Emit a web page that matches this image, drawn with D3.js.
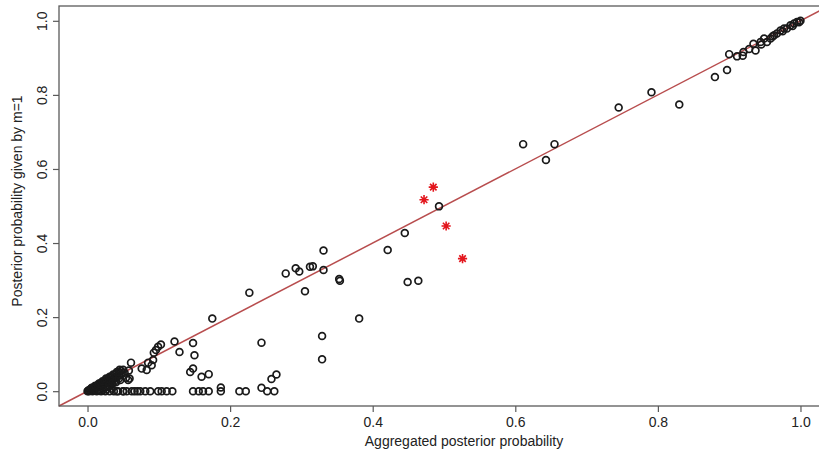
<!DOCTYPE html>
<html>
<head>
<meta charset="utf-8">
<script src="https://cdn.jsdelivr.net/npm/d3@7"></script>
<style>
    body { margin: 0; background: #fff; }
    svg text { font-family: "Liberation Sans", Arial, sans-serif; fill: #222; }
</style>
</head>
<body>
<div id="chart"></div>
<script>
/**
 * Data.
 */
var aggX = [
    1.000, 0.995, 0.991, 0.986, 0.981, 0.977, 0.972, 0.967, 0.963, 0.958,
    0.953, 0.949, 0.944, 0.937, 0.934, 0.920, 0.919, 0.911, 0.900, 0.897,
    0.880, 0.830, 0.791, 0.745, 0.655, 0.643, 0.611, 0.493, 0.464, 0.449,
    0.445, 0.421, 0.381, 0.354, 0.353, 0.331, 0.331, 0.329, 0.329, 0.316,
    0.312, 0.305, 0.297, 0.292, 0.278, 0.265, 0.258, 0.244, 0.244, 0.227,
    0.175, 0.975, 0.989, 0.998, 0.961, 0.945, 0.928,
    0.122, 0.148, 0.103, 0.099, 0.096, 0.093, 0.129, 0.150, 0.092, 0.085,
    0.076, 0.061, 0.090, 0.083, 0.057, 0.059, 0.148, 0.144, 0.160, 0.170,
    0.262, 0.252, 0.222, 0.213, 0.187, 0.187, 0.170, 0.162, 0.156, 0.148,
    0.119, 0.111, 0.104, 0.099, 0.088, 0.081, 0.074, 0.070, 0.062, 0.050, 0.041,
    0.000, 0.001, 0.002, 0.003, 0.004, 0.005, 0.006, 0.007, 0.008, 0.009,
    0.010, 0.011, 0.012, 0.013, 0.014, 0.015, 0.016, 0.017, 0.018, 0.019,
    0.020, 0.021, 0.022, 0.023, 0.024, 0.025, 0.026, 0.027, 0.028, 0.029,
    0.030, 0.031, 0.032, 0.033, 0.034, 0.035, 0.036, 0.037, 0.038, 0.039,
    0.040, 0.041, 0.042, 0.043, 0.044, 0.045, 0.046, 0.047, 0.048, 0.050,
    0.050, 0.052, 0.054, 0.055, 0.058, 0.066,
    0.006, 0.011, 0.016, 0.021, 0.026, 0.031, 0.036, 0.041, 0.045, 0.030,
    0.035, 0.040, 0.044, 0.034, 0.027, 0.022, 0.017
];
var aggY = [
    1.000, 0.997, 0.993, 0.988, 0.979, 0.979, 0.974, 0.966, 0.961, 0.952,
    0.943, 0.952, 0.943, 0.920, 0.938, 0.916, 0.906, 0.904, 0.910, 0.867,
    0.848, 0.774, 0.807, 0.766, 0.667, 0.624, 0.667, 0.499, 0.298, 0.295,
    0.427, 0.381, 0.196, 0.298, 0.303, 0.327, 0.380, 0.149, 0.086, 0.337,
    0.336, 0.270, 0.323, 0.332, 0.318, 0.045, 0.033, 0.131, 0.009, 0.266,
    0.196, 0.972, 0.986, 0.996, 0.958, 0.936, 0.924,
    0.134, 0.130, 0.126, 0.120, 0.111, 0.104, 0.106, 0.097, 0.084, 0.077,
    0.061, 0.077, 0.070, 0.057, 0.030, 0.034, 0.061, 0.052, 0.039, 0.046,
    0.000, 0.000, 0.000, 0.000, 0.000, 0.010, 0.000, 0.000, 0.000, 0.000,
    0.000, 0.000, 0.000, 0.000, 0.000, 0.000, 0.000, 0.000, 0.000, 0.000, 0.000,
    0.000, 0.002, 0.000, 0.004, 0.001, 0.007, 0.003, 0.000, 0.010, 0.005,
    0.002, 0.013, 0.008, 0.000, 0.016, 0.011, 0.004, 0.020, 0.014, 0.000,
    0.023, 0.017, 0.008, 0.026, 0.020, 0.000, 0.030, 0.022, 0.012, 0.033,
    0.026, 0.000, 0.037, 0.029, 0.018, 0.040, 0.032, 0.000, 0.044, 0.036,
    0.024, 0.048, 0.039, 0.000, 0.052, 0.043, 0.030, 0.055, 0.046, 0.000,
    0.058, 0.050, 0.036, 0.000, 0.056, 0.000,
    0.009, 0.015, 0.021, 0.027, 0.034, 0.039, 0.045, 0.052, 0.058, 0.016,
    0.022, 0.028, 0.034, 0.007, 0.005, 0.003, 0.001
];

// highlighted models (red stars)
var starX = [0.485, 0.472, 0.503, 0.526];
var starY = [0.551, 0.517, 0.446, 0.358];

var tickValues = [0, 0.2, 0.4, 0.6, 0.8, 1.0];

var width = 819;
var height = 459;

margin = {
    top: 6,
    right: -10,
    bottom: 53,
    left: 59
};

var x = d3.scaleLinear()
    .domain([-0.04, 1.04])
    .range([margin.left, width - margin.right]);

var y = d3.scaleLinear()
    .domain([-0.04, 1.04])
    .range([height - margin.bottom, margin.top]);

var svg = d3.select("#chart").append("svg")
    .attr("width", width)
    .attr("height", height);

// reference line y = x
svg.append("line")
    .attr("x1", x(-0.04))
    .attr("y1", y(-0.04))
    .attr("x2", x(1.04))
    .attr("y2", y(1.04))
    .attr("stroke", "#b84d4e")
    .attr("stroke-width", 1.5);

var points = aggX.map((d, i) => ({ x: d, y: aggY[i] }));

svg.append("g")
    .selectAll("circle")
    .data(points)
    .enter()
    .append("circle")
    .attr("cx", d => x(d.x))
    .attr("cy", d => y(d.y))
    .attr("r", 3.4)
    .attr("fill", "none")
    .attr("stroke", "#1a1a1a")
    .attr("stroke-width", 1.7);

// pch 8 style asterisk: plus and cross
function asterisk(cx, cy, r) {
    var p = d3.path();
    var q = r * Math.SQRT1_2;
    p.moveTo(cx - r, cy); p.lineTo(cx + r, cy);
    p.moveTo(cx, cy - r); p.lineTo(cx, cy + r);
    p.moveTo(cx - q, cy - q); p.lineTo(cx + q, cy + q);
    p.moveTo(cx - q, cy + q); p.lineTo(cx + q, cy - q);
    return p.toString();
}

svg.append("g")
    .selectAll("path")
    .data(starX.map((d, i) => ({ x: d, y: starY[i] })))
    .enter()
    .append("path")
    .attr("d", d => asterisk(x(d.x), y(d.y), 4.6))
    .attr("stroke", "#e3161d")
    .attr("stroke-width", 1.6)
    .attr("fill", "none");

// box
svg.append("rect")
    .attr("x", x(-0.04))
    .attr("y", y(1.04))
    .attr("width", x(1.04) - x(-0.04))
    .attr("height", y(-0.04) - y(1.04))
    .attr("fill", "none")
    .attr("stroke", "#5a5a5a")
    .attr("stroke-width", 1.3);

var xAxis = g => g
    .attr("transform", `translate(0,${y(-0.04)})`)
    .call(d3.axisBottom(x)
        .tickValues(tickValues)
        .tickFormat(d3.format(".1f"))
        .tickSize(6)
        .tickPadding(5))
    .call(g => g.select(".domain").remove());

var yAxis = g => g
    .attr("transform", `translate(${x(-0.04)},0)`)
    .call(d3.axisLeft(y)
        .tickValues(tickValues)
        .tickFormat(d3.format(".1f"))
        .tickSize(6))
    .call(g => g.select(".domain").remove());

svg.append("g")
    .attr("class", "x-axis")
    .call(xAxis)
    .call(g => g.selectAll("line").attr("stroke", "#5a5a5a").attr("stroke-width", 1.2))
    .selectAll("text")
    .style("font-size", "14px")
    .attr("fill", "#222");

svg.append("g")
    .attr("class", "y-axis")
    .call(yAxis)
    .call(g => g.selectAll("line").attr("stroke", "#5a5a5a").attr("stroke-width", 1.2))
    .selectAll("text")
    .style("font-size", "14px")
    .attr("fill", "#222")
    .style("text-anchor", "middle")
    .attr("x", 0)
    .attr("dy", 0)
    .attr("transform", "translate(-16,0) rotate(-90)")
    .attr("dominant-baseline", "middle");

svg.append("text")
    .attr("x", 464)
    .attr("y", 446)
    .attr("text-anchor", "middle")
    .style("font-size", "14px")
    .text("Aggregated posterior probability");

svg.append("text")
    .attr("transform", "translate(22,201) rotate(-90)")
    .attr("text-anchor", "middle")
    .style("font-size", "14px")
    .text("Posterior probability given by m=1");
</script>
</body>
</html>
